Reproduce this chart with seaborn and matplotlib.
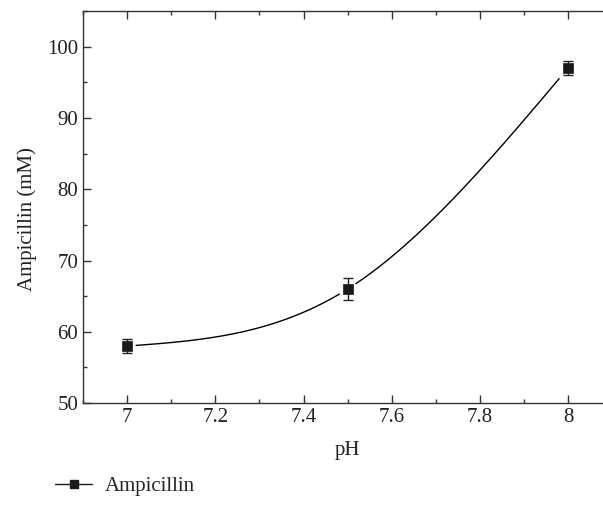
import numpy as np
import pandas as pd
import matplotlib
matplotlib.use('Agg')
import matplotlib.pyplot as plt
import seaborn as sns
from matplotlib.ticker import MultipleLocator
from matplotlib.lines import Line2D

# Data
ph = [7.0, 7.5, 8.0]
ampicillin = [58.0, 66.0, 97.0]
ampicillin_err = [1.0, 1.5, 1.0]


def natural_spline(x, y, n=400):
    # natural cubic spline through the points (same look as the Origin fit line)
    x = np.asarray(x, float)
    y = np.asarray(y, float)
    h = np.diff(x)
    k = len(x)
    A = np.zeros((k, k))
    r = np.zeros(k)
    A[0, 0] = A[-1, -1] = 1
    for i in range(1, k - 1):
        A[i, i - 1] = h[i - 1] / 6
        A[i, i] = (h[i - 1] + h[i]) / 3
        A[i, i + 1] = h[i] / 6
        r[i] = (y[i + 1] - y[i]) / h[i] - (y[i] - y[i - 1]) / h[i - 1]
    m = np.linalg.solve(A, r)
    xs = np.linspace(x[0], x[-1], n)
    idx = np.clip(np.searchsorted(x, xs) - 1, 0, k - 2)
    t0 = xs - x[idx]
    t1 = x[idx + 1] - xs
    hh = h[idx]
    ys = (m[idx] * t1 ** 3 + m[idx + 1] * t0 ** 3) / (6 * hh) \
        + (y[idx] / hh - m[idx] * hh / 6) * t1 \
        + (y[idx + 1] / hh - m[idx + 1] * hh / 6) * t0
    return xs, ys


sns.set_style('ticks')
plt.rcParams['font.family'] = ['Liberation Serif', 'DejaVu Serif']
plt.rcParams['font.size'] = 15

fig = plt.figure(figsize=(6.03, 5.07), dpi=100)
ax = fig.add_axes([0.138, 0.205, 0.877, 0.773])

xs, ys = natural_spline(ph, ampicillin)
# Origin leaves a small gap in the line around each symbol
near = np.min(np.abs(xs[:, None] - np.array(ph)[None, :]), axis=1) < 0.018
ys_gap = np.where(near, np.nan, ys)
curve = pd.DataFrame({'pH': xs, 'amp': ys_gap})
ax.plot(curve['pH'], curve['amp'], color='black', linewidth=1.0)

ax.errorbar(ph, ampicillin, yerr=ampicillin_err, fmt='none', ecolor='#222222',
            elinewidth=1.0, capsize=3.5, capthick=1.0, zorder=3)
sns.scatterplot(x=ph, y=ampicillin, ax=ax, marker='s', s=42, color='#1a1a1a',
                edgecolor='#1a1a1a', linewidth=0.5, zorder=4, legend=False)

ax.set_xlim(6.9, 8.1)
ax.set_ylim(50, 105)
ax.xaxis.set_minor_locator(MultipleLocator(0.1))
ax.yaxis.set_major_locator(MultipleLocator(10))
ax.yaxis.set_minor_locator(MultipleLocator(5))
ax.set_xticks([7, 7.2, 7.4, 7.6, 7.8, 8])
ax.set_xticklabels(['7', '7.2', '7.4', '7.6', '7.8', '8'])
ax.tick_params(which='both', direction='in', top=True, right=True, labelsize=15,
               colors='#333333', labelcolor='#222222')
ax.tick_params(which='major', length=6, width=1)
ax.tick_params(which='minor', length=3, width=1)
for sp in ax.spines.values():
    sp.set_color('#333333')
    sp.set_linewidth(1.0)

ax.set_xlabel('pH', fontsize=15, color='#222222', labelpad=10)
ax.set_ylabel('Ampicillin (mM)', fontsize=15, color='#222222')
ax.yaxis.set_label_coords(-0.088, 0.47)

handle = Line2D([], [], color='#1a1a1a', marker='s', markersize=6, linewidth=1.0)
fig.legend([handle], ['Ampicillin'], loc='lower left', bbox_to_anchor=(0.06, -0.015),
           frameon=False, fontsize=15, handlelength=1.8, handletextpad=0.6)

fig.savefig('out.png', dpi=100)
